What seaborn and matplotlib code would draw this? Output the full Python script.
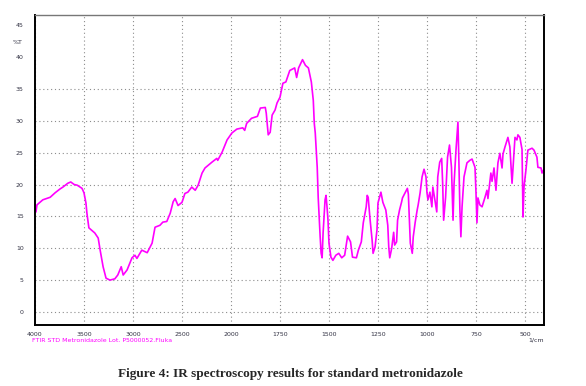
import numpy as np
import pandas as pd
import seaborn as sns
import matplotlib.pyplot as plt
from matplotlib.ticker import FixedLocator

sns.set_style("white")
plt.rcParams["font.family"] = ["DejaVu Sans"]

# spectrum (wavenumber in 1/cm, transmittance in %T)
wavenumber = [
    3990, 3980, 3920, 3845, 3795, 3745, 3715, 3665, 3635, 3600, 3570, 3520,
    3500, 3480, 3470, 3450, 3390, 3355, 3335, 3305, 3275, 3235, 3185, 3155,
    3120, 3100, 3060, 3010, 2980, 2960, 2910, 2855, 2805, 2775, 2725, 2695,
    2655, 2620, 2590, 2570, 2540, 2500, 2470, 2440, 2400, 2365, 2335, 2295,
    2265, 2195, 2145, 2135, 2090, 2040, 1995, 1970, 1955, 1940, 1930, 1920,
    1895, 1865, 1850, 1825, 1820, 1815, 1810, 1800, 1790, 1775, 1765, 1750,
    1735, 1720, 1700, 1675, 1665, 1655, 1635, 1620, 1605, 1590, 1580, 1575,
    1570, 1560, 1555, 1550, 1545, 1540, 1535, 1530, 1520, 1515, 1510, 1505,
    1500, 1490, 1480, 1465, 1450, 1435, 1420, 1405, 1390, 1380, 1360, 1350,
    1335, 1325, 1310, 1305, 1300, 1290, 1280, 1275, 1265, 1255, 1250, 1235,
    1225, 1210, 1200, 1195, 1190, 1180, 1170, 1165, 1155, 1150, 1140, 1130,
    1125, 1100, 1095, 1085, 1075, 1070, 1060, 1050, 1045, 1035, 1025, 1015,
    1005, 1000, 995, 985, 975, 970, 960, 950, 945, 935, 925, 920, 915, 905,
    895, 885, 875, 867, 862, 852, 842, 837, 832, 827, 821, 811, 796, 781,
    770, 755, 750, 745, 740, 730, 719, 704, 694, 689, 684, 674, 668, 658,
    648, 638, 628, 617, 612, 602, 587, 577, 566, 551, 541, 536, 526, 515,
    510, 505, 495, 485, 464, 454, 439, 434, 418, 413, 405,
]
transmittance = [
    15.7, 16.8, 17.6, 18.0, 18.7, 19.3, 19.6, 20.2, 20.4, 20.0, 19.9, 19.4,
    18.7, 17.1, 15.5, 13.2, 12.4, 11.6, 9.7, 7.1, 5.3, 5.0, 5.2, 5.8,
    7.1, 5.8, 6.6, 8.5, 8.9, 8.4, 9.7, 9.3, 10.8, 13.3, 13.6, 14.1,
    14.2, 15.5, 17.3, 17.8, 16.7, 17.2, 18.6, 18.8, 19.6, 19.1, 19.9, 21.8,
    22.6, 23.5, 24.1, 23.8, 25.1, 27.0, 28.1, 28.7, 28.8, 28.9, 28.5, 29.6,
    30.4, 30.7, 32.0, 32.1, 31.2, 29.6, 27.8, 28.2, 30.9, 31.7, 32.8, 33.7,
    35.9, 36.1, 37.9, 38.3, 36.8, 38.3, 39.6, 38.7, 38.3, 36.1, 33.2, 29.6,
    28.1, 22.7, 18.0, 14.9, 11.8, 9.2, 8.5, 12.4, 17.6, 18.3, 16.5, 14.4,
    10.8, 8.6, 8.1, 8.9, 9.2, 8.5, 8.9, 11.9, 11.0, 8.6, 8.5, 9.7,
    11.0, 14.0, 16.5, 18.3, 18.0, 14.4, 11.3, 9.2, 10.2, 12.9, 17.1, 18.8,
    17.2, 16.0, 13.6, 10.2, 8.5, 10.0, 12.5, 10.5, 11.0, 14.4, 16.0, 17.2,
    17.9, 19.4, 18.5, 10.8, 9.2, 11.8, 14.1, 16.0, 16.8, 18.7, 21.2, 22.4,
    21.2, 18.7, 17.6, 18.8, 16.5, 19.6, 17.6, 15.7, 21.2, 23.5, 24.1, 20.2, 14.4, 18.0,
    24.3, 26.2, 22.7, 14.4, 20.0, 25.4, 29.8, 23.4, 16.0, 11.8, 16.5, 21.2, 23.4, 23.8,
    24.0, 22.7, 18.8, 14.0, 17.9, 16.8, 16.5, 18.0, 19.1, 17.8, 19.2, 21.8, 20.5, 22.6,
    19.1, 23.4, 24.9, 22.6, 24.8, 25.9, 27.4, 25.9, 20.2, 27.4, 27.0, 27.8, 27.4, 25.5,
    14.9, 19.6, 22.3, 25.4, 25.7, 25.4, 24.3, 22.7, 22.6, 21.8, 22.3,
]

x_major = [4000, 3500, 3000, 2500, 2000, 1750, 1500, 1250, 1000, 750, 500]
y_major = [0, 5, 10, 15, 20, 25, 30, 35, 40, 45]

df = pd.DataFrame({"wn": wavenumber, "T": transmittance})


# FTIR style x axis: 500 per division above 2000, 250 per division below
def fwd(w):
    w = np.asarray(w, dtype=float)
    return np.where(w <= 2000, (w - 2000) / 250.0, (w - 2000) / 500.0)


def inv(f):
    f = np.asarray(f, dtype=float)
    return np.where(f <= 0, 2000 + 250.0 * f, 2000 + 500.0 * f)


fig = plt.figure(figsize=(5.86, 3.86), dpi=100)
ax = fig.add_axes([0.0597, 0.158, 0.8686, 0.803])

sns.lineplot(data=df, x="wn", y="T", color="#ff00ff", lw=1.2, ax=ax)

ax.set_xscale("function", functions=(fwd, inv))
ax.set_xlim(4000, 403)
ax.set_ylim(-2.05, 46.6)

ax.xaxis.set_major_locator(FixedLocator(x_major))
minor_x = [w for w in np.arange(4000, 2000, -500 / 3)] + [w for w in np.arange(2000, 400, -250 / 3)]
ax.xaxis.set_minor_locator(FixedLocator(minor_x))
ax.set_xticklabels([str(v) for v in x_major])
ax.yaxis.set_major_locator(FixedLocator(y_major))
ax.yaxis.set_minor_locator(FixedLocator(np.arange(-5 / 3, 46.6, 5 / 3)))
ax.set_yticklabels([str(v) for v in y_major])

tick_col = "#333344"
ax.tick_params(axis="x", which="major", direction="out", length=3, width=0.8,
               labelsize=4.5, pad=2, colors="#222222", labelcolor=tick_col)
ax.tick_params(axis="x", which="minor", direction="out", length=2, width=0.6, colors="#222222")
ax.tick_params(axis="y", which="major", direction="out", length=6, width=0.8,
               labelsize=4.5, pad=2, colors="#444444", labelcolor=tick_col)
ax.tick_params(axis="y", which="minor", direction="out", length=3, width=0.6, colors="#444444")

# sparse dotted grid like the instrument printout
ax.grid(True, which="major", linestyle=(0, (1, 2.5)), color="#8c8c8c", lw=0.8)
for gl in ax.get_ygridlines()[-2:]:
    gl.set_visible(False)

ax.set_xlabel("")
ax.set_ylabel("")
ax.spines["left"].set_linewidth(1.4)
ax.spines["left"].set_color("black")
ax.spines["bottom"].set_linewidth(1.4)
ax.spines["bottom"].set_color("black")
ax.spines["right"].set_linewidth(1.4)
ax.spines["right"].set_color("black")
ax.spines["top"].set_linewidth(1.0)
ax.spines["top"].set_color("#777777")

fig.text(18 / 586, 1 - 42 / 386, "%T", fontsize=4.5, color=tick_col, ha="center", va="center")
fig.text(32 / 586, 1 - 340 / 386, "FTIR STD Metronidazole Lot. P5000052.Fluka",
         fontsize=4.5, color="#ff00ff", ha="left", va="center")
fig.text(544 / 586, 1 - 340 / 386, "1/cm", fontsize=4.5, color=tick_col, ha="right", va="center")
fig.text(290 / 586, 1 - 374 / 386, "Figure 4: IR spectroscopy results for standard metronidazole",
         family=["Liberation Serif"], fontweight="bold", fontsize=9.5, ha="center", va="center")

fig.savefig("out.png", dpi=100)
